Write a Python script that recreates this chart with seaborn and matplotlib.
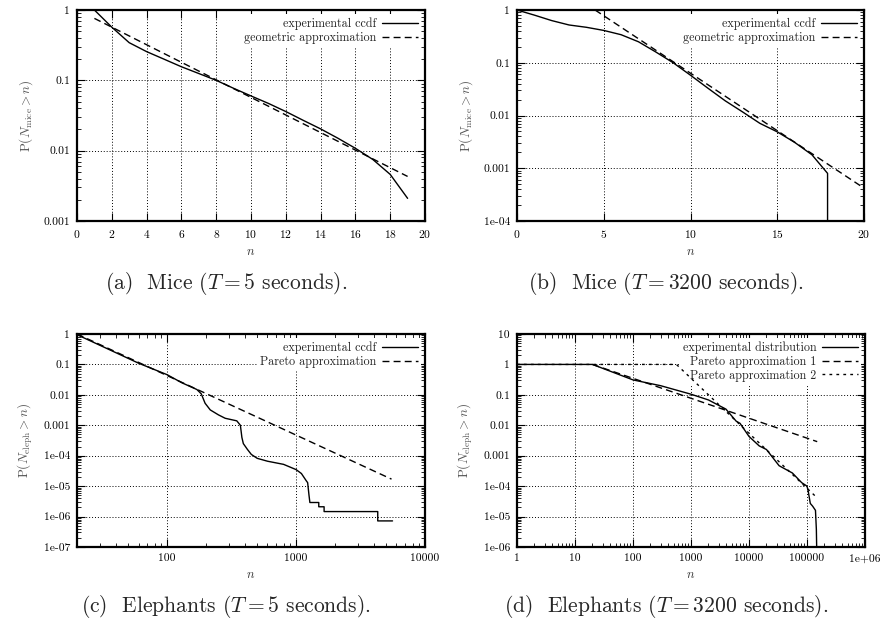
import numpy as np
import pandas as pd
import matplotlib
matplotlib.use("Agg")
import matplotlib.pyplot as plt
import seaborn as sns

# ---- data ----
# (a) mice, T = 5 s
mice5_n = [1, 2, 3, 4, 5, 6, 7, 8, 9, 10, 11, 12, 13, 14, 15, 16, 17, 18, 19]
mice5_ccdf = [1.0, 0.57, 0.343, 0.256, 0.20, 0.156, 0.125, 0.10, 0.077, 0.060,
              0.047, 0.036, 0.027, 0.0204, 0.015, 0.0108, 0.0075, 0.0046, 0.0021]
mice5_geo_n = [1, 19]
mice5_geo = [0.76, 0.0043]

# (b) mice, T = 3200 s
mice3200_n = [0, 1, 2, 3, 4, 5, 6, 7, 8, 9, 10, 11, 12, 13, 14, 15, 16, 17, 17.9, 17.9]
mice3200_ccdf = [1.0, 0.80, 0.63, 0.52, 0.47, 0.41, 0.34, 0.25, 0.16, 0.10, 0.058,
                 0.033, 0.019, 0.0117, 0.0071, 0.0049, 0.0031, 0.0018, 0.0008, 1e-5]
mice3200_geo_n = [4.5, 20]
mice3200_geo = [1.0, 0.00042]

# (c) elephants, T = 5 s
eleph5_n = [20, 60, 100, 130, 170, 184, 197, 216, 250, 282, 347, 370, 380, 390,
            420, 450, 500, 600, 800, 1000, 1100, 1200, 1230, 1260, 1280,
            1500, 1500, 1650, 1650, 4300, 4300, 5600]
eleph5_ccdf = [0.95, 0.11, 0.046, 0.025, 0.015, 0.0108, 0.0053, 0.0032, 0.0022,
               0.0017, 0.0014, 0.001, 0.0004, 2.5e-4, 1.6e-4, 1.1e-4, 8.2e-5,
               6.6e-5, 5.2e-5, 3.5e-5, 2.6e-5, 1.5e-5, 1.3e-5, 5e-6, 2.9e-6,
               2.9e-6, 2.1e-6, 2.1e-6, 1.46e-6, 1.46e-6, 7.2e-7, 7.2e-7]
eleph5_par_n = [20, 5500]
eleph5_par = [1.0, 1.7e-5]

# (d) elephants, T = 3200 s
eleph3200_n = [1, 20, 100, 300, 1000, 2000, 4000, 6000, 7000, 10000, 15000,
               20000, 33000, 56000, 81000, 100000, 105000, 114000, 125000,
               140000, 145000, 150000]
eleph3200_ccdf = [1.0, 1.0, 0.31, 0.20, 0.105, 0.068, 0.034, 0.0137, 0.0116,
                  0.0043, 0.0021, 0.0016, 4.7e-4, 2.7e-4, 1.3e-4, 1e-4, 6.8e-5,
                  2.7e-5, 2.2e-5, 1.6e-5, 3.8e-6, 1e-7]
eleph3200_par1_n = [20, 150000]
eleph3200_par1 = [1.0, 0.0029]
eleph3200_par2_n = [1, 560, 150000]
eleph3200_par2 = [1.0, 1.0, 4.1e-5]

# tick labels
ticks_a_y = [0.001, 0.01, 0.1, 1]
labels_a_y = ["0.001", "0.01", "0.1", "1"]
ticks_b_y = [1e-4, 0.001, 0.01, 0.1, 1]
labels_b_y = ["1e-04", "0.001", "0.01", "0.1", "1"]
ticks_c_y = [1e-7, 1e-6, 1e-5, 1e-4, 0.001, 0.01, 0.1, 1]
labels_c_y = ["1e-07", "1e-06", "1e-05", "1e-04", "0.001", "0.01", "0.1", "1"]
ticks_c_x = [100, 1000, 10000]
labels_c_x = ["100", "1000", "10000"]
ticks_d_y = [1e-6, 1e-5, 1e-4, 0.001, 0.01, 0.1, 1, 10]
labels_d_y = ["1e-06", "1e-05", "1e-04", "0.001", "0.01", "0.1", "1", "10"]
ticks_d_x = [1, 10, 100, 1000, 10000, 100000, 1000000]
labels_d_x = ["1", "10", "100", "1000", "10000", "100000", "1e+06"]

captions = ["(a)  Mice ($T = 5$ seconds).",
            "(b)  Mice ($T = 3200$ seconds).",
            "(c)  Elephants ($T = 5$ seconds).",
            "(d)  Elephants ($T = 3200$ seconds)."]

# ---- style ----
sns.set_style("ticks")
plt.rcParams["font.family"] = ["cmr10"]
plt.rcParams["mathtext.fontset"] = "cm"
plt.rcParams["axes.unicode_minus"] = False
plt.rcParams["axes.formatter.use_mathtext"] = True

fig = plt.figure(figsize=(8.83, 6.19), dpi=100)
W, H = 883, 619


def make_ax(left, right, top, bottom):
    return fig.add_axes([left / W, (H - bottom) / H, (right - left) / W, (bottom - top) / H])


def draw(ax, x, y, style, label):
    dashes = {"-": "-", "--": (0, (5, 3)), ":": (0, (2, 3))}[style]
    sns.lineplot(x=x, y=y, ax=ax, color="black", linewidth=1.0, linestyle=dashes,
                 estimator=None, sort=False, label=label)


def finish(ax, ylabel):
    ax.set_yscale("log")
    for s in ax.spines.values():
        s.set_linewidth(1.6)
        s.set_color("black")
    ax.tick_params(which="both", direction="in", top=True, right=True,
                   labelsize=8.3, colors="black", pad=5)
    ax.tick_params(which="major", length=6, width=0.8)
    ax.tick_params(which="minor", length=3, width=0.6)
    ax.grid(True, which="major", color="black", linestyle=(0, (1, 2)), linewidth=0.7)
    ax.set_ylabel(ylabel, fontsize=9.5, color="#555555", labelpad=6)
    ax.set_xlabel("$n$", fontsize=9, color="#333333", labelpad=4)
    leg = ax.legend(loc="upper right", markerfirst=False, fontsize=8.7,
                    frameon=True, framealpha=1, edgecolor="none", facecolor="white",
                    handlelength=3.0, handletextpad=0.4, labelspacing=0.15,
                    borderaxespad=0.3, borderpad=0.3, fancybox=False)
    leg.set_zorder(1.5)  # hide grid behind the key, but keep curves on top
    for t in leg.get_texts():
        t.set_ha("right")


lab_mice = r"$\mathrm{P}(N_{\mathrm{mice}} > n)$"
lab_eleph = r"$\mathrm{P}(N_{\mathrm{eleph}} > n)$"

# (a)
ax = make_ax(77, 425, 10, 221)
draw(ax, mice5_n, mice5_ccdf, "-", "experimental ccdf")
draw(ax, mice5_geo_n, mice5_geo, "--", "geometric approximation")
finish(ax, lab_mice)
ax.set_xlim(0, 20)
ax.set_ylim(0.001, 1)
ax.set_xticks(range(0, 21, 2))
ax.set_yticks(ticks_a_y, labels_a_y)

# (b)
ax = make_ax(517, 864, 10, 221)
draw(ax, mice3200_n, mice3200_ccdf, "-", "experimental ccdf")
draw(ax, mice3200_geo_n, mice3200_geo, "--", "geometric approximation")
finish(ax, lab_mice)
ax.set_xlim(0, 20)
ax.set_ylim(1e-4, 1)
ax.set_xticks(range(0, 21, 5))
ax.set_yticks(ticks_b_y, labels_b_y)

# (c)
ax = make_ax(77, 425, 334, 547)
draw(ax, eleph5_n, eleph5_ccdf, "-", "experimental ccdf")
draw(ax, eleph5_par_n, eleph5_par, "--", "Pareto approximation")
finish(ax, lab_eleph)
ax.set_xscale("log")
ax.set_xlim(20, 10000)
ax.set_ylim(1e-7, 1)
ax.set_xticks(ticks_c_x, labels_c_x)
ax.set_yticks(ticks_c_y, labels_c_y)

# (d)
ax = make_ax(517, 865, 334, 547)
draw(ax, eleph3200_n, eleph3200_ccdf, "-", "experimental distribution")
draw(ax, eleph3200_par1_n, eleph3200_par1, "--", "Pareto approximation 1")
draw(ax, eleph3200_par2_n, eleph3200_par2, ":", "Pareto approximation 2")
finish(ax, lab_eleph)
ax.set_xscale("log")
ax.set_xlim(1, 1e6)
ax.set_ylim(1e-6, 10)
ax.set_xticks(ticks_d_x, labels_d_x)
ax.set_yticks(ticks_d_y, labels_d_y)

for ax_ in fig.axes:
    ax_.yaxis.set_minor_formatter(matplotlib.ticker.NullFormatter())
    ax_.xaxis.set_minor_formatter(matplotlib.ticker.NullFormatter())

# captions
cap_pos = [(226, 284), (666, 284), (226, 606), (666, 606)]
for (cx, cy), txt in zip(cap_pos, captions):
    fig.text(cx / W, 1 - cy / H, txt, ha="center", va="center", fontsize=15.5)

fig.savefig("out.png", dpi=100)
